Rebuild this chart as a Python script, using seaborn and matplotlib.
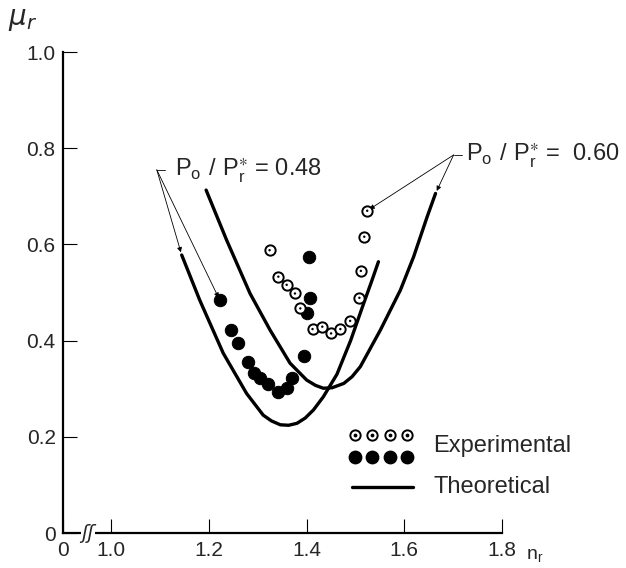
import numpy as np
import pandas as pd
import matplotlib
matplotlib.use('Agg')
import matplotlib.pyplot as plt
import seaborn as sns

# experimental points
exp_048_n = [1.222, 1.245, 1.260, 1.279, 1.292, 1.305, 1.320, 1.342, 1.359, 1.370, 1.395, 1.400, 1.406, 1.404]
exp_048_mu = [0.484, 0.422, 0.396, 0.355, 0.333, 0.322, 0.310, 0.294, 0.301, 0.322, 0.368, 0.457, 0.488, 0.574]

exp_060_n = [1.324, 1.342, 1.359, 1.376, 1.387, 1.412, 1.432, 1.450, 1.469, 1.489, 1.508, 1.511, 1.518, 1.524]
exp_060_mu = [0.588, 0.533, 0.516, 0.498, 0.467, 0.424, 0.429, 0.415, 0.424, 0.441, 0.489, 0.545, 0.616, 0.670]

# theoretical curves
th_048_n = [1.144, 1.181, 1.229, 1.277, 1.311, 1.328, 1.346, 1.363, 1.380, 1.397, 1.414, 1.434, 1.462, 1.490, 1.517, 1.534, 1.547]
th_048_mu = [0.578, 0.484, 0.374, 0.290, 0.245, 0.233, 0.225, 0.224, 0.228, 0.239, 0.256, 0.283, 0.330, 0.400, 0.478, 0.526, 0.564]

th_060_n = [1.194, 1.236, 1.284, 1.325, 1.366, 1.400, 1.418, 1.434, 1.452, 1.476, 1.493, 1.510, 1.551, 1.592, 1.619, 1.647, 1.664]
th_060_mu = [0.713, 0.609, 0.498, 0.422, 0.353, 0.318, 0.307, 0.301, 0.302, 0.311, 0.325, 0.346, 0.422, 0.505, 0.574, 0.658, 0.706]

x_ticks = [0.9, 1.0, 1.2, 1.4, 1.6, 1.8]
x_labels = ['0', '1.0', '1.2', '1.4', '1.6', '1.8']
y_ticks = [0, 0.2, 0.4, 0.6, 0.8, 1.0]
y_labels = ['0', '0.2', '0.4', '0.6', '0.8', '1.0']

sns.set_style('ticks')
plt.rcParams['font.family'] = ['Liberation Sans', 'DejaVu Sans']
plt.rcParams['mathtext.fontset'] = 'dejavusans'

fig = plt.figure(figsize=(6.26, 5.68), dpi=100)
ax = fig.add_axes([0.100, 0.0616, 0.7018, 0.8468])

th1 = pd.DataFrame({'n': th_048_n, 'mu': th_048_mu})
th2 = pd.DataFrame({'n': th_060_n, 'mu': th_060_mu})
sns.lineplot(data=th1, x='n', y='mu', sort=False, estimator=None, color='black', lw=2.4, ax=ax)
sns.lineplot(data=th2, x='n', y='mu', sort=False, estimator=None, color='black', lw=2.4, ax=ax)

e1 = pd.DataFrame({'n': exp_048_n, 'mu': exp_048_mu})
e2 = pd.DataFrame({'n': exp_060_n, 'mu': exp_060_mu})
sns.scatterplot(data=e1, x='n', y='mu', color='black', s=80, edgecolor='black', ax=ax, zorder=4)
sns.scatterplot(data=e2, x='n', y='mu', facecolor='white', s=55, edgecolor='black', linewidth=1.4, ax=ax, zorder=4)
sns.scatterplot(data=e2, x='n', y='mu', color='black', s=3, edgecolor='none', ax=ax, zorder=5)

ax.set_xlim(0.9, 1.8)
ax.set_ylim(0, 1.0)
ax.set_xticks(x_ticks)
ax.set_xticklabels(x_labels)
ax.set_yticks(y_ticks)
ax.set_yticklabels(y_labels)
ax.tick_params(direction='in', length=10, width=0.8, labelsize=15, color='black')
ax.tick_params(axis='y', pad=5)
ax.tick_params(axis='x', pad=6)
ax.set_xlabel('')
ax.set_ylabel('')
sns.despine(ax=ax)
for s in ['left', 'bottom']:
    ax.spines[s].set_linewidth(1.6)
    ax.spines[s].set_color('black')

# axis labels
fig.text(0.013, 0.988, r'$\mu_r$', fontsize=20, va='top', ha='left')
ax.text(1.075, -0.03, r'$\mathregular{n_r}$', transform=ax.transAxes, fontsize=14, va='top', ha='center')

# axis break
ax.text(0.952, 0, 'ʃʃ', fontsize=14, fontstyle='italic', family='DejaVu Sans', ha='center', va='center',
        clip_on=False, zorder=6, bbox=dict(facecolor='white', edgecolor='none', pad=0.5))

# annotations
arw = dict(arrowstyle='-|>', lw=0.6, color='black', mutation_scale=7, shrinkA=0, shrinkB=2)
ax.text(1.130, 0.755, r'$\mathregular{P_o\ /\ P_r^{\ast}}$ = 0.48', fontsize=17, va='center', ha='left')
ax.plot([1.093, 1.110], [0.755, 0.755], color='black', lw=0.6, clip_on=False)
ax.annotate('', xy=(th_048_n[0], th_048_mu[0]), xytext=(1.093, 0.755), arrowprops=arw, annotation_clip=False)
ax.annotate('', xy=(exp_048_n[0], exp_048_mu[0]), xytext=(1.093, 0.755), arrowprops=arw, annotation_clip=False)

ax.text(1.726, 0.786, r'$\mathregular{P_o\ /\ P_r^{\ast}}$ =  0.60', fontsize=17, va='center', ha='left')
ax.plot([1.701, 1.719], [0.786, 0.786], color='black', lw=0.6, clip_on=False)
ax.annotate('', xy=(exp_060_n[-1], exp_060_mu[-1]), xytext=(1.701, 0.786), arrowprops=arw, annotation_clip=False)
ax.annotate('', xy=(th_060_n[-1], th_060_mu[-1]), xytext=(1.701, 0.786), arrowprops=arw, annotation_clip=False)

# legend block
lx = [1.500, 1.534, 1.571, 1.606]
ax.scatter(lx, [0.204] * 4, s=55, facecolor='white', edgecolor='black', linewidth=1.4, zorder=4)
ax.scatter(lx, [0.204] * 4, s=3, color='black', zorder=5)
ax.scatter(lx, [0.158] * 4, s=80, color='black', zorder=4)
ax.plot([1.493, 1.617], [0.096, 0.096], color='black', lw=2.4)
ax.text(1.66, 0.181, 'Experimental', fontsize=17, va='center', ha='left')
ax.text(1.66, 0.096, 'Theoretical', fontsize=17, va='center', ha='left')

fig.savefig('out.png', dpi=100, facecolor='white')
